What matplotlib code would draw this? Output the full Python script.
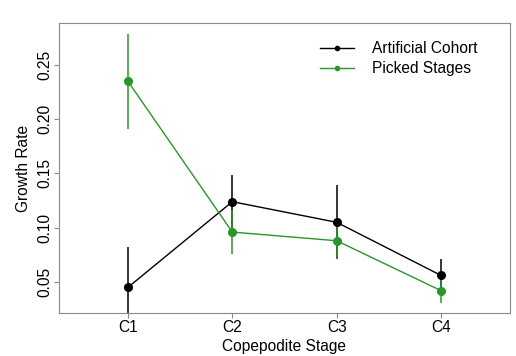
import matplotlib
matplotlib.use("Agg")
import matplotlib.pyplot as plt

plt.rcParams["font.family"] = ["Liberation Sans", "DejaVu Sans"]

# Data
stages = ["C1", "C2", "C3", "C4"]
artificial = [0.045, 0.124, 0.105, 0.056]
artificial_err = [0.037, 0.025, 0.034, 0.015]
picked = [0.235, 0.096, 0.088, 0.042]
picked_err = [0.044, 0.020, 0.017, 0.011]
yticks = [0.05, 0.10, 0.15, 0.20, 0.25]

x = list(range(1, len(stages) + 1))
green = "#2A962A"
frame = "#8a8a8a"
fs = 11.2

fig = plt.figure(figsize=(5.16, 3.56), dpi=100)
ax = fig.add_axes([59 / 516, 1 - 313 / 356, 451 / 516, 290 / 356])

ax.errorbar(x, artificial, yerr=artificial_err, color="black", lw=1, elinewidth=1.1,
            marker="o", ms=5.5, capsize=0, label="Artificial Cohort")
ax.errorbar(x, picked, yerr=picked_err, color=green, lw=1, elinewidth=1.1,
            marker="o", ms=5.5, capsize=0, label="Picked Stages")

ax.set_xlim(0.34, 4.66)
ax.set_ylim(0.0214, 0.2887)
ax.set_xticks(x)
ax.set_xticklabels(stages, fontsize=fs)
ax.set_yticks(yticks)
ax.set_yticklabels([f"{v:.2f}" for v in yticks], fontsize=fs, rotation=90, va="center")
ax.set_xlabel("Copepodite Stage", fontsize=fs, labelpad=3)
ax.set_ylabel("Growth Rate", fontsize=fs, labelpad=4)

for s in ax.spines.values():
    s.set_color(frame)
ax.tick_params(colors=frame, labelcolor="black", length=3.5, pad=1.5)

handles = [
    plt.Line2D([], [], color="black", lw=1, marker="o", ms=3),
    plt.Line2D([], [], color=green, lw=1, marker="o", ms=3),
]
ax.legend(handles, ["Artificial Cohort", "Picked Stages"], loc="upper right",
          bbox_to_anchor=(0.958, 0.985), frameon=False, fontsize=fs,
          handlelength=2.2, labelspacing=0.3, handletextpad=1.1)

fig.savefig("out.png", dpi=100)
